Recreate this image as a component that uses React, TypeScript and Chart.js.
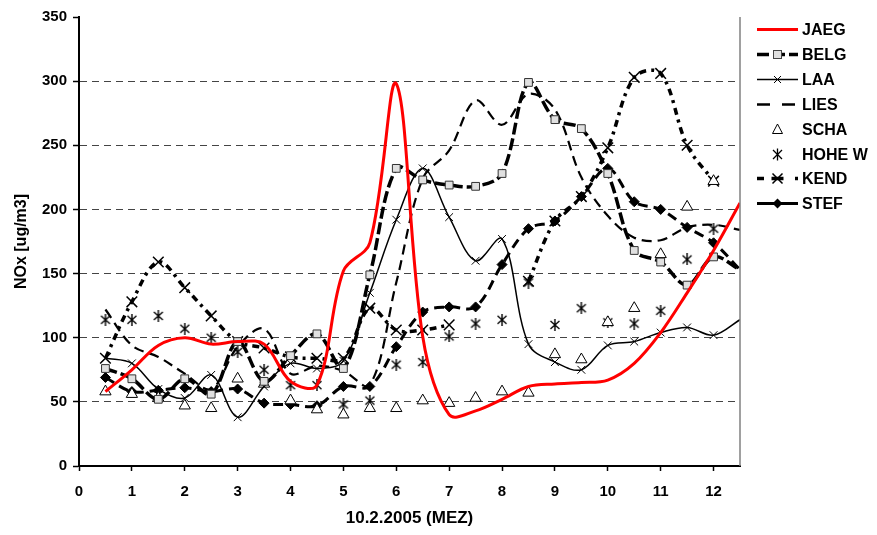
import React, { useEffect, useRef } from 'react';
import { Chart, registerables } from 'chart.js';

Chart.register(...registerables);

// ---- data ----
const times = [0.5, 1, 1.5, 2, 2.5, 3, 3.5, 4, 4.5, 5, 5.5, 6, 6.5, 7, 7.5, 8, 8.5, 9, 9.5, 10, 10.5, 11, 11.5, 12, 12.5];
const xTicks = [0, 1, 2, 3, 4, 5, 6, 7, 8, 9, 10, 11, 12];
const yTicks = [0, 50, 100, 150, 200, 250, 300, 350];
const seriesNames = ['JAEG', 'BELG', 'LAA', 'LIES', 'SCHA', 'HOHE W', 'KEND', 'STEF'];

const JAEG = [58, 75, 94, 100, 95, 97, 95, 66, 63, 152, 174, 298, 101, 40, 43, 52, 62, 64, 65, 67, 80, 104, 135, 168, 205];
const BELG = [76, 68, 52, 68, 56, 97, 66, 86, 103, 76, 149, 232, 223, 219, 218, 228, 299, 270, 263, 228, 168, 159, 141, 163, 153];
const LAA = [84, 80, 60, 53, 71, 38, 62, 80, 76, 82, 135, 192, 232, 194, 160, 177, 95, 81, 75, 94, 97, 104, 108, 102, 114];
const LIES = [122, 94, 85, 72, 60, 93, 107, 72, 78, 74, 63, 143, 224, 246, 285, 266, 290, 278, 225, 195, 178, 176, 186, 188, 184];
const SCHA = [58, 56, 53, 47, 45, 68, 64, 51, 44, 40, 45, 45, 51, 49, 53, 58, 57, 87, 83, 112, 123, 165, 202, 222, null];
const HOHEW = [114, 114, 117, 107, 100, 89, 75, 63, 63, 48, 51, 79, 81, 101, 111, 114, 143, 110, 123, 112, 111, 121, 161, 185, null];
const KEND = [84, 128, 159, 139, 117, 97, 92, 85, 84, 84, 123, 106, 106, 110, null, null, 144, 191, 210, 248, 303, 306, 250, 222, null];
const STEF = [69, 58, 59, 61, 58, 60, 49, 48, 47, 62, 62, 93, 120, 124, 124, 157, 185, 191, 210, 232, 206, 200, 186, 174, 153];

const FONT = "'Liberation Sans', Arial, sans-serif";

const toXY = (arr: (number | null)[]) => times.map((t, i) => ({ x: t, y: arr[i] }));
const pr = (r: number) => times.map((_, i) => (i === times.length - 1 ? 0 : r));

function makeAsterisk(): HTMLCanvasElement {
  const c = document.createElement('canvas');
  c.width = 12;
  c.height = 12;
  const g = c.getContext('2d')!;
  g.strokeStyle = '#000';
  g.lineWidth = 1.4;
  g.beginPath();
  g.moveTo(1.5, 2); g.lineTo(10.5, 10);
  g.moveTo(10.5, 2); g.lineTo(1.5, 10);
  g.moveTo(6, 0); g.lineTo(6, 12);
  g.stroke();
  return c;
}

function drawCross(ctx: CanvasRenderingContext2D, x: number, y: number, h: number, w: number) {
  ctx.save();
  ctx.lineWidth = w;
  ctx.strokeStyle = '#000';
  ctx.setLineDash([]);
  ctx.beginPath();
  ctx.moveTo(x - h, y - h); ctx.lineTo(x + h, y + h);
  ctx.moveTo(x + h, y - h); ctx.lineTo(x - h, y + h);
  ctx.stroke();
  ctx.restore();
}

const legendPlugin = {
  id: 'customLegend',
  afterDraw(chart: any) {
    const ctx: CanvasRenderingContext2D = chart.ctx;
    const x0 = 757, x1 = 798, xm = 777.5, tx = 802;
    ctx.save();
    seriesNames.forEach((name, i) => {
      const y = Math.round(29 + i * 24.9) + 0.5;
      ctx.setLineDash([]);
      ctx.strokeStyle = '#000';
      ctx.fillStyle = '#000';
      if (name === 'JAEG') {
        ctx.strokeStyle = '#ff0000';
        ctx.lineWidth = 3;
        ctx.beginPath(); ctx.moveTo(x0, y); ctx.lineTo(x1, y); ctx.stroke();
      } else if (name === 'BELG') {
        ctx.lineWidth = 3.5;
        ctx.setLineDash([12, 4]);
        ctx.beginPath(); ctx.moveTo(x0, y); ctx.lineTo(x1, y); ctx.stroke();
        ctx.setLineDash([]);
        ctx.fillStyle = '#e0e0e0';
        ctx.strokeStyle = '#444';
        ctx.lineWidth = 1;
        ctx.fillRect(xm - 4, y - 4, 8, 8);
        ctx.strokeRect(xm - 4, y - 4, 8, 8);
      } else if (name === 'LAA') {
        ctx.lineWidth = 1.5;
        ctx.beginPath(); ctx.moveTo(x0, y); ctx.lineTo(x1, y); ctx.stroke();
        drawCross(ctx, xm, y, 3.5, 1);
      } else if (name === 'LIES') {
        ctx.lineWidth = 2.5;
        ctx.setLineDash([13, 12]);
        ctx.beginPath(); ctx.moveTo(x0, y); ctx.lineTo(x1, y); ctx.stroke();
      } else if (name === 'SCHA') {
        ctx.lineWidth = 1;
        ctx.beginPath();
        ctx.moveTo(xm, y - 5.5); ctx.lineTo(xm + 5, y + 4); ctx.lineTo(xm - 5, y + 4); ctx.closePath();
        ctx.fillStyle = '#fff'; ctx.fill(); ctx.stroke();
      } else if (name === 'HOHE W') {
        drawCross(ctx, xm, y, 4.5, 1.3);
        ctx.lineWidth = 1.3;
        ctx.beginPath(); ctx.moveTo(xm, y - 6); ctx.lineTo(xm, y + 6); ctx.stroke();
      } else if (name === 'KEND') {
        ctx.lineWidth = 3.5;
        ctx.beginPath(); ctx.moveTo(x0, y); ctx.lineTo(x0 + 7, y); ctx.stroke();
        ctx.beginPath(); ctx.moveTo(x1 - 3, y); ctx.lineTo(x1, y); ctx.stroke();
        ctx.beginPath(); ctx.moveTo(xm - 6, y); ctx.lineTo(xm + 6, y); ctx.stroke();
        drawCross(ctx, xm, y, 5, 1.5);
      } else if (name === 'STEF') {
        ctx.lineWidth = 3;
        ctx.beginPath(); ctx.moveTo(x0, y); ctx.lineTo(x1, y); ctx.stroke();
        ctx.beginPath();
        ctx.moveTo(xm, y - 5); ctx.lineTo(xm + 5, y); ctx.lineTo(xm, y + 5); ctx.lineTo(xm - 5, y); ctx.closePath();
        ctx.fill();
      }
      ctx.setLineDash([]);
      ctx.fillStyle = '#000';
      ctx.font = `bold 16px ${FONT}`;
      ctx.textBaseline = 'middle';
      ctx.textAlign = 'left';
      ctx.fillText(name, tx, y + 1);
    });
    ctx.restore();
  },
};

const borderPlugin = {
  id: 'rightBorder',
  afterDatasetsDraw(chart: any) {
    const { ctx, chartArea } = chart;
    ctx.save();
    ctx.strokeStyle = '#808080';
    ctx.lineWidth = 1.5;
    ctx.beginPath();
    ctx.moveTo(chartArea.right, chartArea.top);
    ctx.lineTo(chartArea.right, chartArea.bottom);
    ctx.stroke();
    ctx.restore();
  },
};

export default function App() {
  const ref = useRef<HTMLCanvasElement | null>(null);

  useEffect(() => {
    document.body.style.margin = '0';
    const canvas = ref.current;
    if (!canvas) return;
    const asterisk = makeAsterisk();
    const tickFont = { family: FONT, size: 15, weight: 'bold' as const };
    const titleFont = { family: FONT, size: 16, weight: 'bold' as const };

    const chart = new Chart(canvas, {
      type: 'line',
      data: {
        datasets: [
          {
            label: 'JAEG', data: toXY(JAEG), borderColor: '#ff0000', borderWidth: 3,
            pointRadius: 0, tension: 0.35,
          },
          {
            label: 'BELG', data: toXY(BELG), borderColor: '#000', borderWidth: 3.5, borderDash: [12, 4],
            pointStyle: 'rect', pointRadius: pr(5.5), pointBackgroundColor: '#e0e0e0',
            pointBorderColor: '#333', pointBorderWidth: 1, tension: 0.35,
          },
          {
            label: 'LAA', data: toXY(LAA), borderColor: '#000', borderWidth: 1.5,
            pointStyle: 'crossRot', pointRadius: pr(5.5), pointBorderColor: '#000', pointBorderWidth: 1, tension: 0.35,
          },
          {
            label: 'LIES', data: toXY(LIES), borderColor: '#000', borderWidth: 2.2, borderDash: [10, 6],
            pointRadius: 0, tension: 0.35,
          },
          {
            label: 'SCHA', data: toXY(SCHA), showLine: false, borderColor: '#000',
            pointStyle: 'triangle', pointRadius: 6.5, pointBackgroundColor: '#fff',
            pointBorderColor: '#000', pointBorderWidth: 1,
          },
          {
            label: 'HOHE W', data: toXY(HOHEW), showLine: false, borderColor: '#000',
            pointStyle: asterisk as any, pointRadius: 6,
          },
          {
            label: 'KEND', data: toXY(KEND), borderColor: '#000', borderWidth: 3.5, borderDash: [7, 5, 3, 5],
            pointStyle: 'crossRot', pointRadius: 7.5, pointBorderColor: '#000', pointBorderWidth: 1.5,
            tension: 0.35, spanGaps: false,
          },
          {
            label: 'STEF', data: toXY(STEF), borderColor: '#000', borderWidth: 3, borderDash: [10, 6],
            pointStyle: 'rectRot', pointRadius: pr(5), pointBackgroundColor: '#000',
            pointBorderColor: '#000', pointBorderWidth: 1, tension: 0.35,
          },
        ] as any,
      },
      options: {
        animation: false,
        responsive: false,
        maintainAspectRatio: false,
        events: [],
        layout: { padding: { left: 0, right: 137, top: 17, bottom: 0 } },
        plugins: { legend: { display: false }, tooltip: { enabled: false } },
        scales: {
          x: {
            type: 'linear', min: 0, max: 12.5,
            afterBuildTicks: (s: any) => { s.ticks = xTicks.map((v) => ({ value: v })); },
            afterFit: (s: any) => { s.height = 69; },
            ticks: { font: tickFont, color: '#000', padding: 12, autoSkip: false, maxRotation: 0, callback: (v: any) => String(v) },
            grid: { drawOnChartArea: false, tickLength: 5, tickColor: '#000', tickWidth: 1.5 },
            border: { color: '#000', width: 2 },
            title: { display: true, text: '10.2.2005 (MEZ)', font: { family: FONT, size: 17, weight: 'bold' }, color: '#000', padding: { top: 0, bottom: 6 } },
          },
          y: {
            type: 'linear', min: 0, max: 350,
            afterBuildTicks: (s: any) => { s.ticks = yTicks.map((v) => ({ value: v })); },
            afterFit: (s: any) => { s.width = 79; },
            ticks: { font: tickFont, color: '#000', padding: 6, callback: (v: any) => String(v) },
            grid: {
              color: (c: any) => (c.tick && (c.tick.value === 0 || c.tick.value === 350) ? 'rgba(0,0,0,0)' : '#444'),
              lineWidth: 1, tickLength: 6, tickColor: '#000', tickWidth: 1.5,
            },
            border: { color: '#000', width: 2, dash: [7, 5] },
            title: { display: true, text: 'NOx [ug/m3]', font: titleFont, color: '#000', padding: { top: 12, bottom: 0 } },
          },
        },
      } as any,
      plugins: [borderPlugin, legendPlugin],
    });
    return () => chart.destroy();
  }, []);

  return (
    <div style={{ width: 877, height: 535, position: 'relative' }}>
      <canvas ref={ref} width={877} height={535} style={{ display: 'block', width: 877, height: 535 }} />
    </div>
  );
}
